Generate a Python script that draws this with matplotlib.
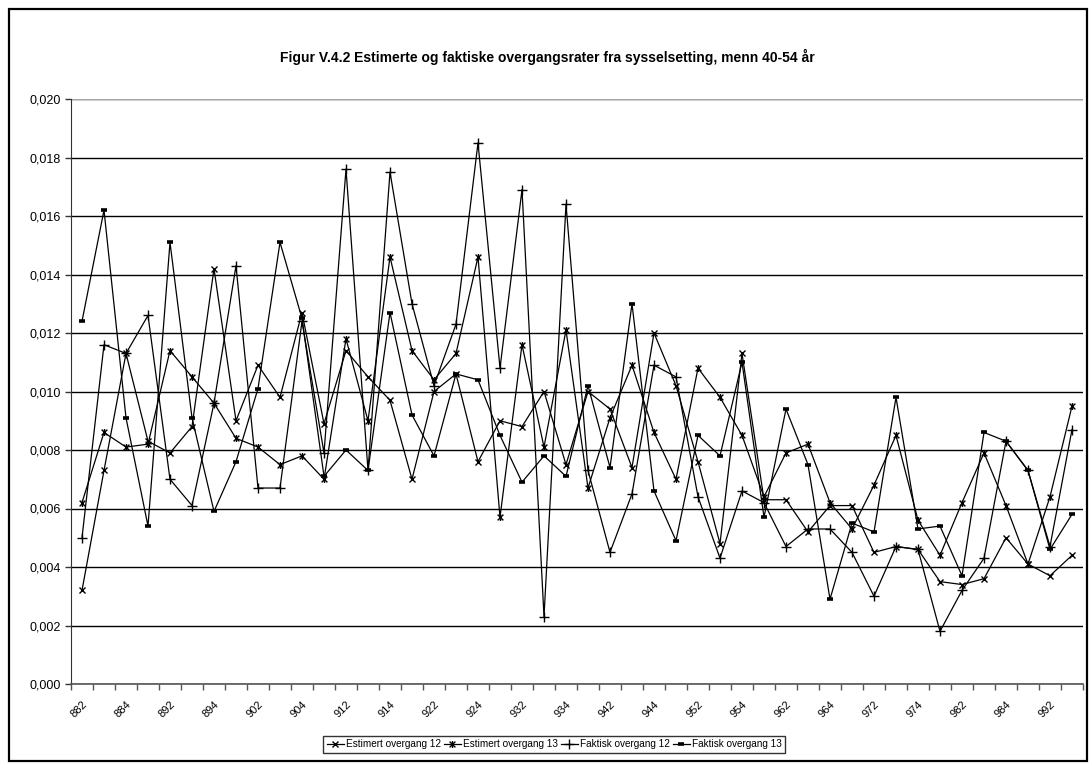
import numpy as np
import matplotlib.pyplot as plt
from matplotlib.path import Path
from matplotlib.patches import Rectangle
from matplotlib.ticker import FuncFormatter

plt.rcParams['font.family'] = ['Liberation Sans', 'DejaVu Sans']

# kvartaler 1988:2 - 1999:3
kvartal = ['882', '883', '884', '891', '892', '893', '894', '901', '902', '903',
           '904', '911', '912', '913', '914', '921', '922', '923', '924', '931',
           '932', '933', '934', '941', '942', '943', '944', '951', '952', '953',
           '954', '961', '962', '963', '964', '971', '972', '973', '974', '981',
           '982', '983', '984', '991', '992', '993']

est_12 = [0.0032, 0.0073, 0.0113, 0.0083, 0.0079, 0.0088, 0.0142, 0.0090, 0.0109, 0.0098,
          0.0127, 0.0089, 0.0114, 0.0105, 0.0097, 0.0070, 0.0100, 0.0106, 0.0076, 0.0090,
          0.0088, 0.0100, 0.0075, 0.0100, 0.0094, 0.0074, 0.0120, 0.0102, 0.0076, 0.0048,
          0.0113, 0.0063, 0.0063, 0.0052, 0.0061, 0.0061, 0.0045, 0.0047, 0.0046, 0.0035,
          0.0034, 0.0036, 0.0050, 0.0041, 0.0037, 0.0044]
est_13 = [0.0062, 0.0086, 0.0081, 0.0082, 0.0114, 0.0105, 0.0096, 0.0084, 0.0081, 0.0075,
          0.0078, 0.0070, 0.0118, 0.0090, 0.0146, 0.0114, 0.0104, 0.0113, 0.0146, 0.0057,
          0.0116, 0.0081, 0.0121, 0.0067, 0.0091, 0.0109, 0.0086, 0.0070, 0.0108, 0.0098,
          0.0085, 0.0064, 0.0079, 0.0082, 0.0062, 0.0053, 0.0068, 0.0085, 0.0056, 0.0044,
          0.0062, 0.0079, 0.0061, 0.0041, 0.0064, 0.0095]
fakt_12 = [0.0050, 0.0116, 0.0113, 0.0126, 0.0070, 0.0061, 0.0096, 0.0143, 0.0067, 0.0067,
           0.0124, 0.0079, 0.0176, 0.0073, 0.0175, 0.0130, 0.0102, 0.0123, 0.0185, 0.0108,
           0.0169, 0.0023, 0.0164, 0.0073, 0.0045, 0.0065, 0.0109, 0.0105, 0.0064, 0.0043,
           0.0066, 0.0062, 0.0047, 0.0053, 0.0053, 0.0045, 0.0030, 0.0047, 0.0046, 0.0018,
           0.0032, 0.0043, 0.0083, 0.0073, 0.0047, 0.0087]
fakt_13 = [0.0124, 0.0162, 0.0091, 0.0054, 0.0151, 0.0091, 0.0059, 0.0076, 0.0101, 0.0151,
           0.0125, 0.0071, 0.0080, 0.0073, 0.0127, 0.0092, 0.0078, 0.0106, 0.0104, 0.0085,
           0.0069, 0.0078, 0.0071, 0.0102, 0.0074, 0.0130, 0.0066, 0.0049, 0.0085, 0.0078,
           0.0110, 0.0057, 0.0094, 0.0075, 0.0029, 0.0055, 0.0052, 0.0098, 0.0053, 0.0054,
           0.0037, 0.0086, 0.0083, 0.0073, 0.0046, 0.0058]

# Excel-stjerne: kryss med loddrett strek
stjerne = Path([(-1, -1), (1, 1), (-1, 1), (1, -1), (0, -1.2), (0, 1.2)],
               [Path.MOVETO, Path.LINETO, Path.MOVETO, Path.LINETO, Path.MOVETO, Path.LINETO])

W, H = 1092, 765
fig = plt.figure(figsize=(W / 100, H / 100), dpi=100)
fig.patches.append(Rectangle((9 / W, 4 / H), 1078 / W, 752 / H, transform=fig.transFigure,
                             fill=False, edgecolor='black', linewidth=1.6))

ax = fig.add_axes([71 / W, (H - 684) / H, (1083 - 71) / W, (684 - 99) / H])
x = np.arange(len(kvartal))

serier = [
    (est_12, 'x', 5, 1.0, 'Estimert overgang 12'),
    (est_13, stjerne, 5, 1.0, 'Estimert overgang 13'),
    (fakt_12, '+', 7, 1.0, 'Faktisk overgang 12'),
    (fakt_13, '_', 4, 2.6, 'Faktisk overgang 13'),
]
for verdier, mk, ms, mew, navn in serier:
    ax.plot(x, verdier, color='black', linewidth=0.9, marker=mk, markersize=ms,
            markeredgewidth=mew, markeredgecolor='black', label=navn, zorder=3)

ax.set_xlim(-0.5, len(kvartal) - 0.5)
ax.set_ylim(0, 0.020)
ax.set_yticks(np.arange(0, 0.0201, 0.002))
ax.yaxis.set_major_formatter(FuncFormatter(lambda v, p: f'{v:.3f}'.replace('.', ',')))

ax.set_xticks(np.arange(-0.5, len(kvartal), 1))
ax.set_xticklabels([])
ax.set_xticks(x[::2], minor=True)
ax.set_xticklabels(kvartal[::2], minor=True, rotation=45, ha='right', va='top',
                   rotation_mode='anchor', fontsize=8)
ax.tick_params(axis='x', which='minor', length=0, pad=11)
ax.tick_params(axis='x', which='major', length=4, width=1, color='#555555')
ax.tick_params(axis='y', length=4, width=1, labelsize=9, color='#333333')

ax.grid(axis='y', color='black', linewidth=1.0, zorder=1)
ax.set_axisbelow(True)
for s in ['top', 'right']:
    ax.spines[s].set_visible(False)
ax.spines['left'].set_color('#333333')
ax.spines['bottom'].set_color('#555555')
ax.spines['bottom'].set_linewidth(1.2)
ax.axhline(0.020, color='#c8c8c8', linewidth=1.2, zorder=2)

fig.text(547 / W, 1 - 57 / H,
         'Figur V.4.2 Estimerte og faktiske overgangsrater fra sysselsetting, menn 40-54 år',
         ha='center', va='center', fontsize=10, fontweight='bold')

leg = fig.legend(loc='center', bbox_to_anchor=(554 / W, 1 - 744 / H), ncol=4,
                 fontsize=7.2, frameon=True, fancybox=False, edgecolor='black',
                 handlelength=1.7, handletextpad=0.2, columnspacing=0.3,
                 borderpad=0.35, borderaxespad=0)
leg.get_frame().set_linewidth(1.0)

fig.savefig('out.png', dpi=100)
